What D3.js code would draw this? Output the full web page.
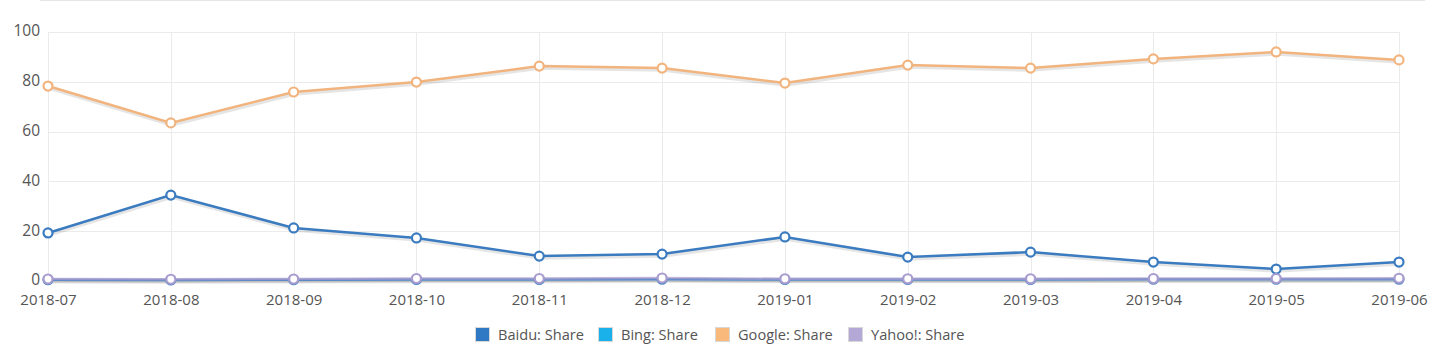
<!DOCTYPE html>
<html><head>
<meta charset="utf-8">
<script src="https://d3js.org/d3.v7.min.js"></script>
<style>
  body { margin: 0; background: #fff; }
  svg text { font-family: "Open Sans", sans-serif; fill: #555; }
</style>
</head>
<body>
<svg id="chart" width="1440" height="353"></svg>
<script>
// months on the x axis
const months = ["2018-07","2018-08","2018-09","2018-10","2018-11","2018-12",
                "2019-01","2019-02","2019-03","2019-04","2019-05","2019-06"];
const yTicks = [0, 20, 40, 60, 80, 100];

// series values
const baidu  = [19.3, 34.5, 21.3, 17.3, 10.0, 10.8, 17.7, 9.6, 11.6, 7.6, 4.8, 7.6];
const bing   = [0.5, 0.4, 0.5, 0.6, 0.6, 0.7, 0.6, 0.6, 0.6, 0.7, 0.7, 0.7];
const google = [78.3, 63.5, 75.9, 79.9, 86.3, 85.5, 79.5, 86.7, 85.5, 89.2, 92.0, 88.8];
const yahoo  = [0.8, 0.7, 0.8, 1.0, 1.0, 1.2, 0.9, 0.9, 0.9, 1.0, 1.0, 1.1];

const seriesNames = ["Baidu: Share", "Bing: Share", "Google: Share", "Yahoo!: Share"];
const seriesData = [baidu, bing, google, yahoo];
const lineColors = ["#3b7bbf", "#4f86c8", "#f2b47e", "#a99ccf"];
const swatchColors = ["#2f78c4", "#1ab0ea", "#f9b97a", "#b3a8d6"];

let svg = d3.select("svg#chart");
let margin = {top: 32, left: 48, right: 41, bottom: 72};
let chartWidth = 1440 - margin.left - margin.right;
let chartHeight = 353 - margin.top - margin.bottom;

// faint line across the top
svg.append("line")
  .attr("x1", 40).attr("x2", 1425).attr("y1", 0.5).attr("y2", 0.5)
  .attr("stroke", "#e6e6e6");

let x = d3.scalePoint().domain(months).range([0, chartWidth]);
let y = d3.scaleLinear().domain([0, 100]).range([chartHeight, 0]);

let g = svg.append("g").attr("transform", "translate(" + margin.left + "," + margin.top + ")");

// grid
g.append("g").selectAll("line").data(yTicks).join("line")
  .attr("x1", 0).attr("x2", chartWidth)
  .attr("y1", d => Math.round(y(d)) + 0.5).attr("y2", d => Math.round(y(d)) + 0.5)
  .attr("stroke", "#ebebeb");
g.append("g").selectAll("line").data(months).join("line")
  .attr("x1", d => Math.round(x(d)) + 0.5).attr("x2", d => Math.round(x(d)) + 0.5)
  .attr("y1", 0).attr("y2", chartHeight)
  .attr("stroke", "#ebebeb");

// axes
let leftAxis = d3.axisLeft(y).tickValues(yTicks).tickSize(0).tickPadding(8);
let yAxis = g.append("g").call(leftAxis);
yAxis.select(".domain").remove();
yAxis.selectAll("text").style("font-size", "15.5px").attr("fill", "#555").attr("dy", "0.25em");

let bottomAxis = d3.axisBottom(x).tickSize(0).tickPadding(13);
let xAxis = g.append("g").attr("transform", "translate(0," + chartHeight + ")").call(bottomAxis);
xAxis.select(".domain").remove();
xAxis.selectAll("text").style("font-size", "15px").attr("fill", "#555");

let line = d3.line().x((d, i) => x(months[i])).y(d => y(d));

// shadows first
seriesData.forEach(vals => {
  g.append("path").datum(vals)
    .attr("d", line)
    .attr("transform", "translate(1,2)")
    .attr("fill", "none")
    .attr("stroke", "rgba(0,0,0,0.10)")
    .attr("stroke-width", 3.5);
});

seriesData.forEach((vals, s) => {
  g.append("path").datum(vals)
    .attr("d", line)
    .attr("fill", "none")
    .attr("stroke", lineColors[s])
    .attr("stroke-opacity", s == 3 ? 0.75 : 1)
    .attr("stroke-width", 2.5);
  g.append("g").selectAll("circle").data(vals).join("circle")
    .attr("cx", (d, i) => x(months[i]))
    .attr("cy", d => y(d))
    .attr("r", 4.5)
    .attr("fill", "#fff")
    .attr("stroke", lineColors[s])
    .attr("stroke-width", 2.2);
});

// legend
const legendX = [475, 598, 715, 848];
let legend = svg.append("g");
seriesNames.forEach((name, i) => {
  legend.append("rect")
    .attr("x", legendX[i] + 0.5).attr("y", 327.5)
    .attr("width", 14).attr("height", 14)
    .attr("fill", swatchColors[i])
    .attr("stroke", "#d8d8d8");
  legend.append("text")
    .attr("x", legendX[i] + 23).attr("y", 339.5)
    .style("font-size", "14.6px")
    .text(name);
});
</script>
</body>
</html>
